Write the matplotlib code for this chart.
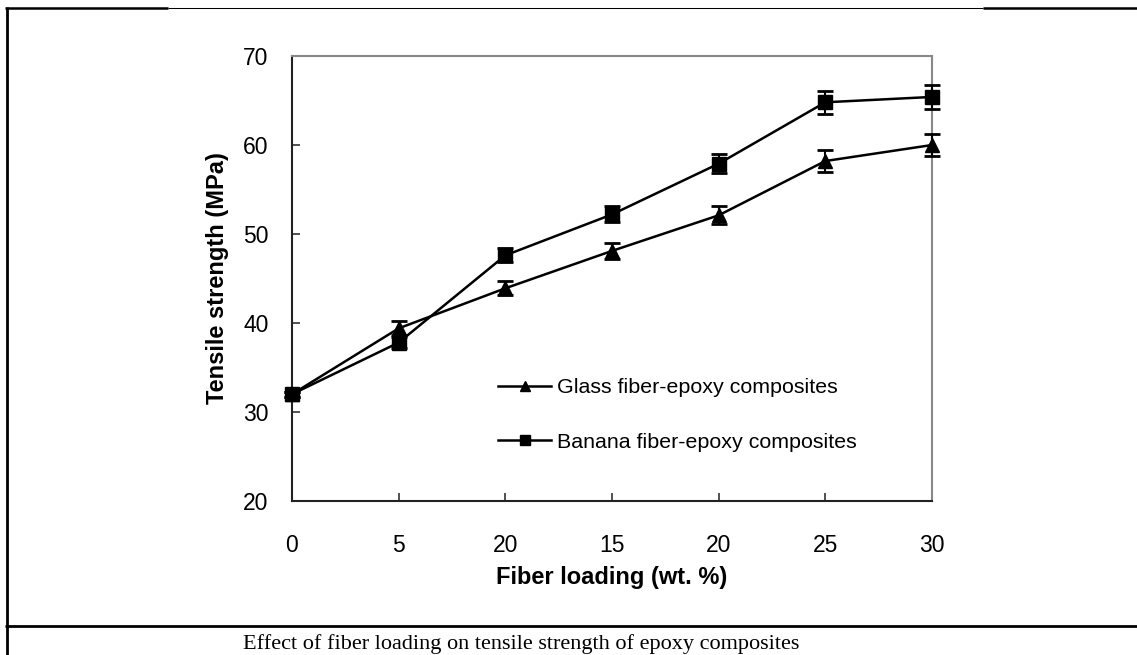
import matplotlib
matplotlib.use("Agg")
import matplotlib.pyplot as plt
from matplotlib.lines import Line2D
import numpy as np

categories = ['0', '5', '20', '15', '20', '25', '30']
glass = [32.0, 39.4, 43.9, 48.1, 52.1, 58.2, 60.0]
glass_err = [0.3, 0.8, 0.8, 0.9, 1.0, 1.2, 1.2]
banana = [32.0, 37.8, 47.6, 52.2, 57.9, 64.8, 65.4]
banana_err = [0.3, 0.6, 0.8, 0.9, 1.1, 1.3, 1.3]
yticks = [20, 30, 40, 50, 60, 70]
series_labels = ['Glass fiber-epoxy composites', 'Banana fiber-epoxy composites']

W, H = 1137, 655
fig = plt.figure(figsize=(W / 100, H / 100), dpi=100)
plt.rcParams['font.family'] = ['Liberation Sans', 'DejaVu Sans']

ax = fig.add_axes([292 / W, 1 - 501 / H, (932 - 292) / W, (501 - 56) / H])
x = np.arange(len(categories))

for vals, errs, mk in [(glass, glass_err, '^'), (banana, banana_err, 's')]:
    cont = ax.errorbar(x, vals, yerr=errs, color='black', lw=1.8, marker=mk, ms=10,
                       capsize=6, capthick=2, elinewidth=1.5, zorder=3)
    for art in [cont.lines[0]] + list(cont.lines[1]) + list(cont.lines[2]):
        art.set_clip_on(False)

ax.set_xlim(0, len(categories) - 1)
ax.set_ylim(20, 70)
ax.set_xticks(x)
ax.set_xticklabels(categories)
ax.set_yticks(yticks)
ax.tick_params(axis='both', direction='in', length=6, width=1.2, labelsize=16.5, color='#333333')
ax.tick_params(axis='x', pad=24)
ax.tick_params(axis='y', pad=17)
for s in ['left', 'bottom']:
    ax.spines[s].set_color('#222222')
    ax.spines[s].set_linewidth(1.5)
for s in ['top', 'right']:
    ax.spines[s].set_color('#888888')
    ax.spines[s].set_linewidth(1.5)

ax.set_xlabel('Fiber loading (wt. %)', fontsize=17, fontweight='bold', labelpad=6)
ax.set_ylabel('Tensile strength (MPa)', fontsize=17, fontweight='bold', labelpad=10)

handles = [Line2D([], [], color='black', lw=1.8, marker='^', ms=7),
           Line2D([], [], color='black', lw=1.8, marker='s', ms=7)]
leg = ax.legend(handles, series_labels, loc='center left', bbox_to_anchor=(498 / W, 1 - 415 / H),
                bbox_transform=fig.transFigure, frameon=False, fontsize=15.4, borderpad=0,
                borderaxespad=0, handlelength=2.5, handletextpad=0.25, labelspacing=1.65)

# caption and table borders
fig.text(521 / W, 1 - 644 / H, 'Effect of fiber loading on tensile strength of epoxy composites',
         family=['Liberation Serif', 'DejaVu Serif'], fontsize=16, ha='center', va='center')

def fline(x0, y0, x1, y1, lw):
    fig.add_artist(Line2D([x0 / W, x1 / W], [1 - y0 / H, 1 - y1 / H], transform=fig.transFigure,
                          color='black', lw=lw, solid_capstyle='butt'))

fline(5, 8, 168, 8, 1.8)
fline(168, 8, 983, 8, 0.75)
fline(983, 8, 1137, 8, 1.8)
fline(7, 7, 7, 655, 2.0)
fline(5, 626, 1137, 626, 2.0)

fig.savefig('out.png', dpi=100)
